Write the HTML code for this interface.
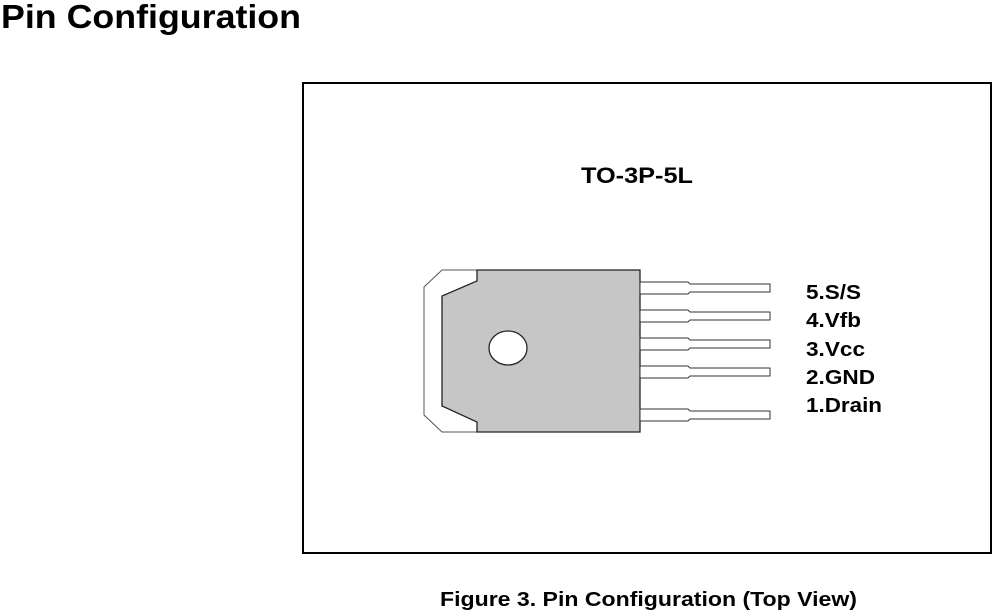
<!DOCTYPE html>
<html><head><meta charset="utf-8"><style>
html,body{margin:0;padding:0;background:#fff;}
svg{display:block;}
text{font-family:"Liberation Sans",Arial,sans-serif;font-weight:bold;fill:#000;}
</style></head><body>
<svg width="1000" height="614" viewBox="0 0 1000 614" xmlns="http://www.w3.org/2000/svg">
<text x="1" y="28" font-size="33" textLength="300" lengthAdjust="spacingAndGlyphs">Pin Configuration</text>
<rect x="303" y="83" width="688" height="470" fill="none" stroke="#000" stroke-width="2"/>
<text x="581" y="183" font-size="22" textLength="112" lengthAdjust="spacingAndGlyphs">TO-3P-5L</text>
<polygon points="442,270 477,270 477,432 442,432 424,415 424,287" fill="#fff" stroke="#555" stroke-width="1"/>
<polygon points="477,270 640,270 640,432 477,432 477,422 442,406 442,296 477,281" fill="#c6c6c6" stroke="#222" stroke-width="1.3"/>
<ellipse cx="508" cy="348" rx="19" ry="17" fill="#fff" stroke="#222" stroke-width="1.3"/>
<g fill="#fff" stroke="#333" stroke-width="1">
<polygon points="640,282 688,282 690,284 770,284 770,292 690,292 688,294 640,294"/>
<polygon points="640,310 688,310 690,312 770,312 770,320 690,320 688,322 640,322"/>
<polygon points="640,338 688,338 690,340 770,340 770,348 690,348 688,350 640,350"/>
<polygon points="640,366 688,366 690,368 770,368 770,376 690,376 688,378 640,378"/>
<polygon points="640,409 688,409 690,411 770,411 770,419 690,419 688,421 640,421"/>
</g>
<g font-size="20">
<text x="806" y="299" textLength="55" lengthAdjust="spacingAndGlyphs">5.S/S</text>
<text x="806" y="327" textLength="55" lengthAdjust="spacingAndGlyphs">4.Vfb</text>
<text x="806" y="356" textLength="59" lengthAdjust="spacingAndGlyphs">3.Vcc</text>
<text x="806" y="384" textLength="69" lengthAdjust="spacingAndGlyphs">2.GND</text>
<text x="806" y="412" textLength="76" lengthAdjust="spacingAndGlyphs">1.Drain</text>
</g>
<text x="440" y="606" font-size="20" textLength="417" lengthAdjust="spacingAndGlyphs">Figure 3. Pin Configuration (Top View)</text>
</svg>
</body></html>
